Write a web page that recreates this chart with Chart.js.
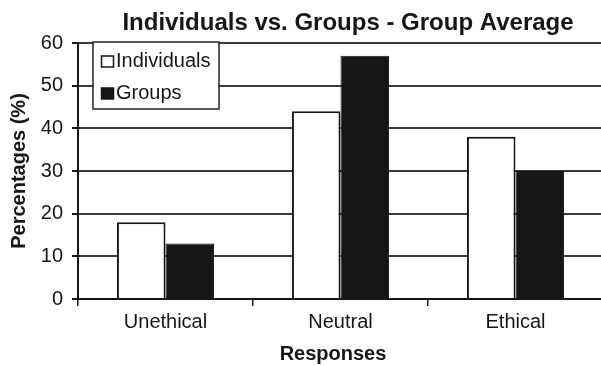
<!DOCTYPE html>
<html>
<head>
<meta charset="utf-8">
<title>Individuals vs. Groups - Group Average</title>
<script src="https://cdn.jsdelivr.net/npm/chart.js@4/dist/chart.umd.min.js"></script>
<style>
    html, body { margin: 0; padding: 0; background: #fff; overflow: hidden; }
    #wrap { position: relative; width: 605px; height: 365px; }
</style>
</head>
<body>
<div id="wrap"><canvas id="chartRespuestas"></canvas></div>
<script>
// ===== DATOS =====
const categorias = ['Unethical', 'Neutral', 'Ethical'];
const individuos = [18, 44, 38];
const grupos = [13, 57, 30];
const ejeYMin = 0;
const ejeYMax = 60;
const ejeYPaso = 10;

const titulo = 'Individuals vs. Groups - Group Average';
const tituloX = 'Responses';
const tituloY = 'Percentages (%)';

const FUENTE = '"Liberation Sans", Arial, sans-serif';
const NEGRO = '#161616';

// ===== TITULOS Y LEYENDA =====
const textosPlugin = {
    id: 'textos',
    afterDraw(chart) {
        const ctx = chart.ctx;
        ctx.save();
        ctx.fillStyle = NEGRO;
        ctx.textAlign = 'center';
        ctx.textBaseline = 'alphabetic';

        // titulo principal
        ctx.font = 'bold 24px ' + FUENTE;
        ctx.fillText(titulo, 348, 30);

        // titulo eje X
        ctx.font = 'bold 20px ' + FUENTE;
        ctx.fillText(tituloX, 333, 360);

        // titulo eje Y
        ctx.save();
        ctx.translate(25, 171);
        ctx.rotate(-Math.PI / 2);
        ctx.fillText(tituloY, 0, 0);
        ctx.restore();

        // leyenda
        const caja = { x: 93, y: 42, w: 126, h: 67 };
        ctx.fillStyle = '#fff';
        ctx.fillRect(caja.x, caja.y, caja.w, caja.h);
        ctx.strokeStyle = '#222';
        ctx.lineWidth = 1.5;
        ctx.strokeRect(caja.x, caja.y, caja.w, caja.h);

        ctx.font = '20px ' + FUENTE;
        ctx.textAlign = 'left';
        chart.data.datasets.forEach((ds, i) => {
            const base = 67 + i * 32;
            ctx.fillStyle = ds.backgroundColor;
            ctx.fillRect(101.5, base - 11, 12, 11);
            ctx.strokeStyle = NEGRO;
            ctx.lineWidth = 1.5;
            ctx.strokeRect(101.5, base - 11, 12, 11);
            ctx.fillStyle = NEGRO;
            ctx.fillText(ds.label, 116, base);
        });
        ctx.restore();
    }
};

// ===== GRAFICO =====
function crearGrafico() {
    const ctx = document.getElementById('chartRespuestas').getContext('2d');

    new Chart(ctx, {
        type: 'bar',
        data: {
            labels: categorias,
            datasets: [
                {
                    label: 'Individuals',
                    data: individuos,
                    backgroundColor: '#ffffff',
                    borderColor: NEGRO,
                    borderWidth: 2
                },
                {
                    label: 'Groups',
                    data: grupos,
                    backgroundColor: NEGRO,
                    borderColor: NEGRO,
                    borderWidth: 1
                }
            ]
        },
        options: {
            responsive: true,
            maintainAspectRatio: false,
            animation: false,
            categoryPercentage: 0.555,
            barPercentage: 1.0,
            layout: { padding: { top: 43, right: 2, left: 0, bottom: 0 } },
            plugins: {
                legend: { display: false },
                title: { display: false },
                tooltip: { enabled: false }
            },
            scales: {
                x: {
                    afterFit: s => { s.height = 66; },
                    grid: {
                        display: true,
                        drawOnChartArea: false,
                        offset: true,
                        tickLength: 7,
                        tickColor: NEGRO,
                        lineWidth: 1.5
                    },
                    border: { color: NEGRO, width: 2 },
                    ticks: {
                        color: NEGRO,
                        padding: 4,
                        font: { family: FUENTE, size: 20 }
                    }
                },
                y: {
                    min: ejeYMin,
                    max: ejeYMax,
                    afterFit: s => { s.width = 78; },
                    grid: {
                        color: '#3a3a3a',
                        lineWidth: 2,
                        tickLength: 6,
                        tickColor: NEGRO
                    },
                    border: { color: NEGRO, width: 2 },
                    ticks: {
                        stepSize: ejeYPaso,
                        color: NEGRO,
                        padding: 9,
                        font: { family: FUENTE, size: 20 }
                    }
                }
            }
        },
        plugins: [textosPlugin]
    });
}

document.addEventListener('DOMContentLoaded', crearGrafico);
</script>
</body>
</html>
